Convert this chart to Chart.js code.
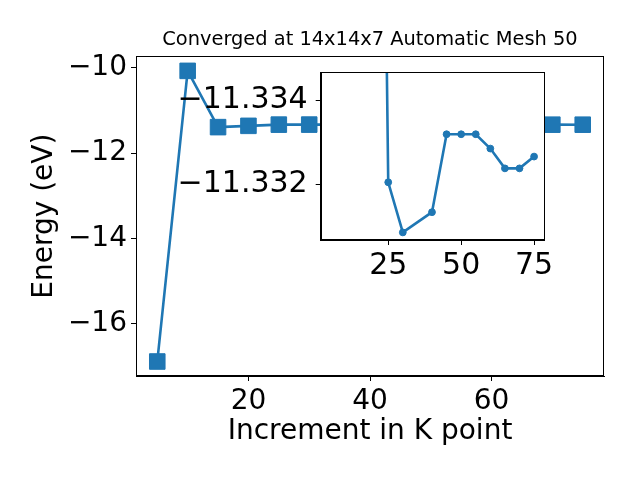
<!DOCTYPE html>
<html><head><meta charset="utf-8">
<script src="https://cdn.jsdelivr.net/npm/chart.js@4/dist/chart.umd.min.js"></script>
<style>
html,body{margin:0;padding:0;background:#fff;}
#wrap{position:relative;width:640px;height:480px;}
canvas{position:absolute;left:0;top:0;}
</style>
</head><body>
<div id="wrap"><canvas id="main" width="640" height="480"></canvas><canvas id="inset" width="640" height="480"></canvas></div>
<script>
const kPoints = [5, 10, 15, 20, 25, 30, 40, 45, 50, 55, 60, 65, 70, 75];
const energies = [-16.89, -10.07, -11.39, -11.36, -11.33205, -11.33086, -11.33134, -11.33319, -11.33319, -11.33319, -11.33285, -11.33238, -11.33238, -11.33266];
const insetKPoints = [20, 25, 30, 40, 45, 50, 55, 60, 65, 70, 75];
const insetEnergies = [-11.36, -11.33205, -11.33086, -11.33134, -11.33319, -11.33319, -11.33319, -11.33285, -11.33238, -11.33238, -11.33266];
const mainXTicks = [20, 40, 60];
const mainYTicks = [-10, -12, -14, -16];
const insetXTicks = [25, 50, 75];
const insetYTicks = [-11.334, -11.332];
const titleText = 'Converged at 14x14x7 Automatic Mesh 50';
const xLabel = 'Increment in K point';
const yLabel = 'Energy (eV)';

const BLUE = '#1f77b4';
Chart.defaults.font.family = 'DejaVu Sans';
Chart.defaults.color = '#000';

function fmt(v, dec) {
  const s = Math.abs(v).toFixed(dec);
  return (v < 0 ? '\u2212' : '') + s;
}
const points = kPoints.map((x, i) => ({x: x, y: energies[i]}));
const insetPoints = insetKPoints.map((x, i) => ({x: x, y: insetEnergies[i]}));

const frame = {
  id: 'frame',
  afterDraw(chart) {
    const a = chart.chartArea, ctx = chart.ctx;
    ctx.save();
    ctx.strokeStyle = '#000';
    ctx.lineWidth = 1;
    ctx.strokeRect(Math.round(a.left) + 0.5, Math.round(a.top) + 0.5, Math.round(a.right - a.left) - 1, Math.round(a.bottom - a.top) - 1);
    ctx.restore();
  }
};
const whiteBg = {
  id: 'whiteBg',
  beforeDraw(chart) {
    const a = chart.chartArea, ctx = chart.ctx;
    ctx.save();
    ctx.fillStyle = '#fff';
    ctx.fillRect(a.left, a.top, a.right - a.left, a.bottom - a.top);
    ctx.restore();
  }
};

const axisGrid = {display: true, drawOnChartArea: false, drawTicks: true, tickLength: 5, color: '#000', lineWidth: 1};
const axisBorder = {display: true, color: '#000', width: 1};

new Chart(document.getElementById('main'), {
  type: 'scatter',
  data: {datasets: [{
    data: points,
    showLine: true,
    borderColor: BLUE,
    backgroundColor: BLUE,
    borderWidth: 2.6,
    pointStyle: 'rect',
    pointRadius: 11,
    pointBorderWidth: 1,
    pointHoverRadius: 11
  }]},
  options: {
    responsive: false, animation: false, devicePixelRatio: 1,
    layout: {padding: {left: 0, right: 36, top: 0, bottom: 0}},
    plugins: {
      legend: {display: false}, tooltip: {enabled: false},
      title: {display: true, text: titleText, fullSize: false, font: {size: 19.4, weight: 'normal'}, color: '#000', padding: {top: 28.4, bottom: 4.7}}
    },
    scales: {
      x: {
        type: 'linear', min: 1.5, max: 78.5,
        afterBuildTicks: s => { s.ticks = mainXTicks.map(v => ({value: v})); },
        afterFit: s => { s.height = 104; },
        ticks: {font: {size: 28}, padding: 4, maxRotation: 0, callback: v => fmt(v, 0)},
        grid: axisGrid, border: axisBorder,
        title: {display: true, text: xLabel, font: {size: 28}, padding: {top: 0, bottom: 31}}
      },
      y: {
        type: 'linear', min: -17.23, max: -9.73,
        afterBuildTicks: s => { s.ticks = mainYTicks.map(v => ({value: v})); },
        afterFit: s => { s.width = 136; },
        ticks: {font: {size: 28}, padding: 4, callback: v => fmt(v, 0)},
        grid: axisGrid, border: axisBorder,
        title: {display: true, text: yLabel, font: {size: 28}, padding: {top: 28, bottom: 0}}
      }
    }
  },
  plugins: [frame]
});

new Chart(document.getElementById('inset'), {
  type: 'scatter',
  data: {datasets: [{
    data: insetPoints,
    showLine: true,
    borderColor: BLUE,
    backgroundColor: BLUE,
    borderWidth: 2.6,
    pointStyle: 'circle',
    pointRadius: 3.4,
    pointBorderWidth: 1,
    pointHoverRadius: 3.4
  }]},
  options: {
    responsive: false, animation: false, devicePixelRatio: 1,
    layout: {padding: {left: 0, right: 95.7, top: 72.3, bottom: 0}},
    plugins: {legend: {display: false}, tooltip: {enabled: false}, title: {display: false}},
    scales: {
      x: {
        type: 'linear', min: 1.85, max: 78.5,
        afterBuildTicks: s => { s.ticks = insetXTicks.map(v => ({value: v})); },
        afterFit: s => { s.height = 240; },
        ticks: {font: {size: 30}, padding: 3, maxRotation: 0, callback: v => fmt(v, 0)},
        grid: axisGrid, border: axisBorder
      },
      y: {
        type: 'linear', reverse: true, min: -11.33466, max: -11.33068,
        afterBuildTicks: s => { s.ticks = insetYTicks.map(v => ({value: v})); },
        afterFit: s => { s.width = 320.7; },
        ticks: {font: {size: 30}, padding: 8, callback: v => fmt(v, 3)},
        grid: axisGrid, border: axisBorder
      }
    }
  },
  plugins: [whiteBg, frame]
});
</script>
</body></html>
